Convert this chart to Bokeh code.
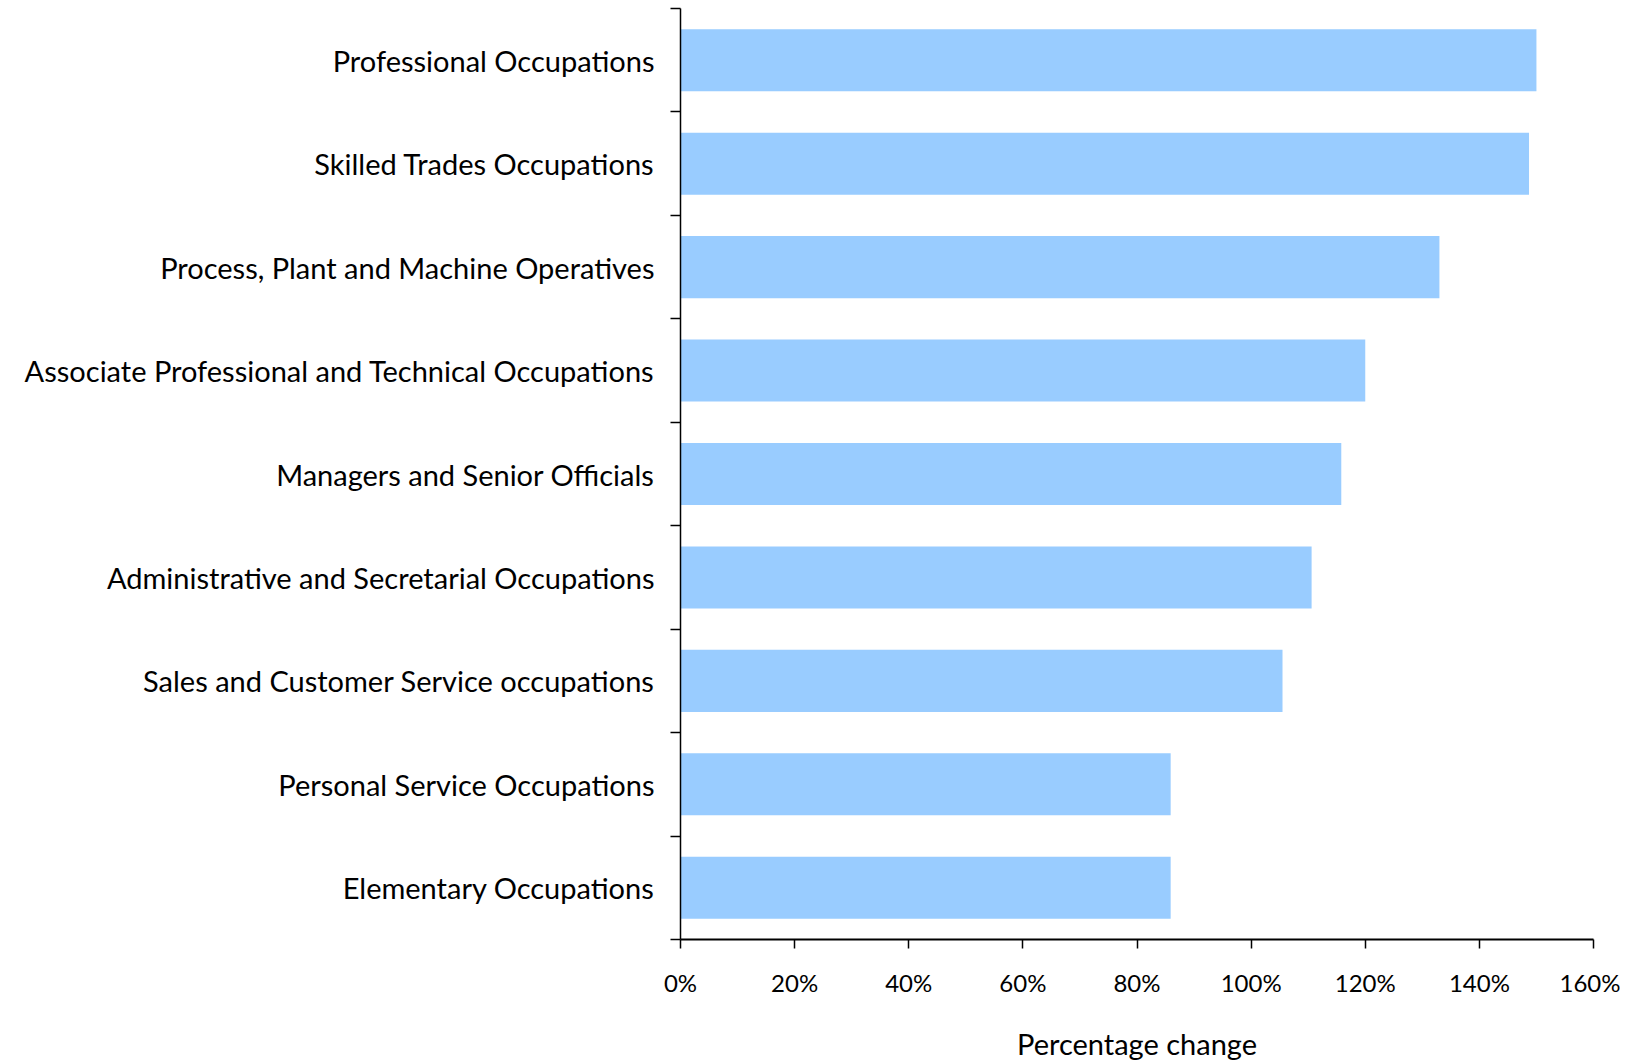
from bokeh.plotting import figure
from bokeh.models import Range1d, FixedTicker
from bokeh.embed import file_html
from bokeh.resources import INLINE

categories = [
    "Professional Occupations",
    "Skilled Trades Occupations",
    "Process, Plant and Machine Operatives",
    "Associate Professional and Technical Occupations",
    "Managers and Senior Officials",
    "Administrative and Secretarial Occupations",
    "Sales and Customer Service occupations",
    "Personal Service Occupations",
    "Elementary Occupations",
]
values = [150.0, 148.7, 133.0, 120.0, 115.8, 110.6, 105.5, 85.9, 85.9]
x_ticks = [0, 20, 40, 60, 80, 100, 120, 140, 160]

n = len(categories)
# bottom-to-top positions
ypos = [n - 0.5 - i for i in range(n)]

p = figure(width=1620, height=1063, output_backend="svg", toolbar_location=None,
           x_range=Range1d(0, 160), y_range=Range1d(0, n),
           min_border_left=680, min_border_right=27, min_border_top=8, min_border_bottom=118)
p.outline_line_color = None
p.grid.visible = False
p.background_fill_color = "white"
p.border_fill_color = "white"

p.hbar(y=ypos, right=values, left=0, height=0.6, fill_color="#99CCFF", line_color=None)

FONT = "Lato"
# y axis
p.yaxis.ticker = FixedTicker(ticks=ypos, minor_ticks=list(range(n + 1)))
p.yaxis.major_label_overrides = {y: c for y, c in zip(ypos, categories)}
p.yaxis.major_tick_out = 0
p.yaxis.major_tick_in = 0
p.yaxis.minor_tick_out = 10
p.yaxis.minor_tick_in = 0
p.yaxis.minor_tick_line_color = "black"
p.yaxis.minor_tick_line_width = 1.5
p.yaxis.axis_line_color = "black"
p.yaxis.axis_line_width = 1.5
p.yaxis.major_label_standoff = 16
p.yaxis.major_label_text_font = FONT
p.yaxis.major_label_text_font_size = "29px"
p.yaxis.major_label_text_color = "black"

# x axis
p.xaxis.ticker = FixedTicker(ticks=x_ticks, minor_ticks=[])
p.xaxis.major_label_overrides = {v: f"{v}%" for v in x_ticks}
p.xaxis.major_tick_out = 9
p.xaxis.major_tick_in = 0
p.xaxis.major_tick_line_color = "black"
p.xaxis.major_tick_line_width = 1.5
p.xaxis.axis_line_color = "black"
p.xaxis.axis_line_width = 2
p.xaxis.major_label_standoff = 19
p.xaxis.major_label_text_font = FONT
p.xaxis.major_label_text_font_size = "24px"
p.xaxis.major_label_text_color = "black"
p.xaxis.axis_label = "Percentage change"
p.xaxis.axis_label_text_font = FONT
p.xaxis.axis_label_text_font_style = "normal"
p.xaxis.axis_label_text_font_size = "29px"
p.xaxis.axis_label_text_color = "black"
p.xaxis.axis_label_standoff = 26

open("out.html", "w").write(file_html(p, INLINE))
